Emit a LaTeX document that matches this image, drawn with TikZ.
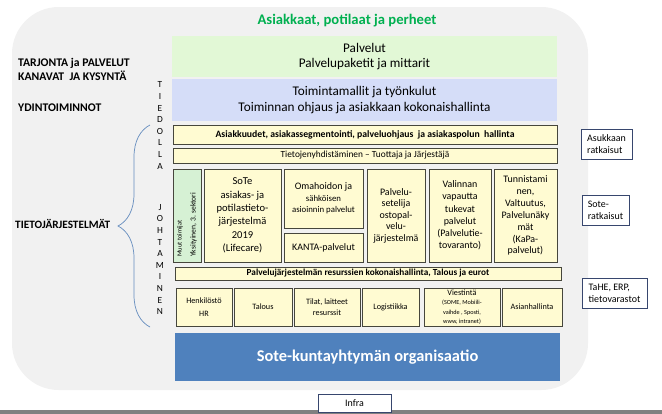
\documentclass[tikz,border=0pt]{standalone}
\usepackage{fontspec}
\setmainfont{Carlito}
\usetikzlibrary{positioning, decorations.pathreplacing}

\definecolor{bgGray}{RGB}{241,241,241}
\definecolor{titleGreen}{RGB}{0,176,80}
\definecolor{palvGreen}{RGB}{226,248,214}
\definecolor{toimBlue}{RGB}{213,221,248}
\definecolor{boxFill}{RGB}{255,251,210}
\definecolor{boxLine}{RGB}{70,70,60}
\definecolor{muutGreen}{RGB}{214,241,212}
\definecolor{orgBlue}{RGB}{79,129,189}
\definecolor{navyLine}{RGB}{55,70,110}
\definecolor{braceBlue}{RGB}{100,140,190}
\definecolor{barGray}{RGB}{128,128,128}

\begin{document}
\begin{tikzpicture}[
  x=0.03cm, y=-0.03cm,
  sz/.style 2 args={minimum width=#1*0.03cm, minimum height=#2*0.03cm},
  band/.style={inner sep=0pt, align=center, font=\fontsize{11.3}{13}\selectfont},
  box/.style={draw=boxLine, fill=boxFill, line width=0.7pt, inner sep=0pt, align=center},
  smallbox/.style={box, font=\fontsize{7}{9}\selectfont},
  sidebox/.style={draw=navyLine, fill=white, line width=0.6pt, inner sep=0pt, align=left, font=\fontsize{8.5}{10}\selectfont},
  sidelabel/.style={anchor=west, inner sep=0pt, align=left, font=\bfseries\fontsize{10}{12}\selectfont},
  letters/.style={inner sep=0pt, align=center, font=\fontsize{8}{9.9}\selectfont},
]
  \useasboundingbox (0,0) rectangle (662,414);
  \fill[barGray] (0,410) rectangle (662,414);

  % background and bands
  \node[fill=bgGray, rounded corners=1.4cm, inner sep=0pt, sz={576}{383}] (bg) at (300,198.5) {};
  \node[font=\bfseries\fontsize{12.5}{14}\selectfont, text=titleGreen, inner sep=0pt] (asiakkaat) at (347,21) {Asiakkaat, potilaat ja perheet};
  \node[band, fill=palvGreen, sz={385}{41}] (palvelut) at (364.5,56.5) {Palvelut\\Palvelupaketit ja mittarit};
  \node[band, fill=toimBlue, sz={385}{42}] (toimintamallit) at (364.5,100) {Toimintamallit ja työnkulut\\Toiminnan ohjaus ja asiakkaan kokonaishallinta};

  % left labels
  \node[sidelabel] (tarjonta) at (18,69) {TARJONTA ja PALVELUT\\KANAVAT\ \ JA KYSYNTÄ};
  \node[sidelabel] (ydin) at (18,108) {YDINTOIMINNOT};
  \node[sidelabel, font=\bfseries\fontsize{9.6}{12}\selectfont] (tietojarj) at (15,224) {TIETOJÄRJESTELMÄT};
  \coordinate (braceTop) at (150,125);
  \coordinate (braceBot) at (150,327);
  \draw[braceBlue, line width=0.6pt, decorate, decoration={brace, amplitude=0.96cm}] (braceBot) -- (braceTop);
  \node[letters] (tiedolla) at (160,125.5) {T\\I\\E\\D\\O\\L\\L\\A};
  \node[letters] (johtaminen) at (160,259.5) {J\\O\\H\\T\\A\\M\\I\\N\\E\\N};

  % information systems
  \node[box, sz={384}{19}, font=\bfseries\fontsize{8.3}{9}\selectfont] (asiakkuudet) at (365,134.5) {Asiakkuudet, asiakassegmentointi, palveluohjaus\ \ ja asiakaspolun\ \ hallinta};
  \node[box, sz={384}{15}, font=\fontsize{8}{9}\selectfont] (yhdistaminen) at (365,155.5) {Tietojenyhdistäminen – Tuottaja ja Järjestäjä};

  \node[box, fill=muutGreen, rotate=90, sz={93}{28}] (muut) at (187,215.5) {};
  \node[rotate=90, anchor=west, align=left, inner sep=0pt] (muutTxt) at (187,257) {{\fontsize{5.5}{7}\selectfont Muut toimijat}\\{\fontsize{6.5}{9}\selectfont Yksityinen, 3. sektori}};
  \node[box, sz={77}{93}, font=\fontsize{9}{11.4}\selectfont] (sote) at (242.5,215.5) {SoTe\\asiakas- ja\\potilastieto-\\järjestelmä\\2019\\(Lifecare)};
  \node[box, sz={79}{59}, font=\fontsize{7.5}{9.8}\selectfont] (omahoito) at (323.5,198.5) {{\fontsize{8.5}{9.8}\selectfont Omahoidon ja}\\sähköisen\\asioinnin palvelut};
  \node[box, sz={79}{29}, font=\fontsize{8.5}{10}\selectfont] (kanta) at (323.5,247.5) {KANTA-palvelut};
  \node[box, sz={58}{93}, font=\fontsize{8.5}{9.8}\selectfont] (palveluseteli) at (396,215.5) {Palvelu-\\setelija\\ostopal-\\velu-\\järjestelmä};
  \node[box, sz={62}{93}, font=\fontsize{8.5}{10.4}\selectfont] (valinnan) at (460,215.5) {Valinnan\\vapautta\\tukevat\\palvelut\\(Palvelutie-\\tovaranto)};
  \node[box, sz={63}{93}, font=\fontsize{8.5}{10.2}\selectfont] (tunnistaminen) at (525.5,215.5) {Tunnistami\\nen,\\Valtuutus,\\Palvelunäky\\mät\\(KaPa-\\palvelut)};

  % resources
  \node[box, sz={386}{13}, font=\bfseries\fontsize{7.9}{9}\selectfont] (resurssit) at (368,273.5) {Palvelujärjestelmän resurssien kokonaishallinta, Talous ja eurot};
  \node[smallbox, sz={56}{38}, font=\fontsize{7}{11.5}\selectfont] (henkilosto) at (204,307) {Henkilöstö\\HR};
  \node[smallbox, sz={58}{38}] (talous) at (263,307) {Talous};
  \node[smallbox, sz={66}{38}] (tilat) at (327,307) {Tilat, laitteet\\resurssit};
  \node[smallbox, sz={57}{38}] (logistiikka) at (390.5,307) {Logistiikka};
  \node[smallbox, sz={76}{38}, font=\fontsize{5.3}{8}\selectfont] (viestinta) at (462,307) {{\fontsize{7}{8}\selectfont Viestintä}\\(SOME, Mobiili-\\vaihde , Sposti,\\www, intranet)};
  \node[smallbox, sz={60}{38}] (asianhallinta) at (532,307) {Asianhallinta};

  \node[fill=orgBlue, text=white, inner sep=0pt, font=\bfseries\fontsize{14}{16}\selectfont, sz={385}{48}] (organisaatio) at (367.5,357) {Sote-kuntayhtymän organisaatio};
  \node[sidebox, align=center, sz={73}{18}] (infra) at (354.5,403) {Infra};

  % right side
  \node[sidebox, sz={51}{30}] (asukkaan) at (606.5,144) {Asukkaan\\ratkaisut};
  \node[sidebox, sz={47}{30}] (soteRatk) at (605.5,210) {Sote-\\ratkaisut};
  \node[sidebox, sz={65}{30}] (tahe) at (614.5,293) {TaHE, ERP,\\tietovarastot};
\end{tikzpicture}
\end{document}
